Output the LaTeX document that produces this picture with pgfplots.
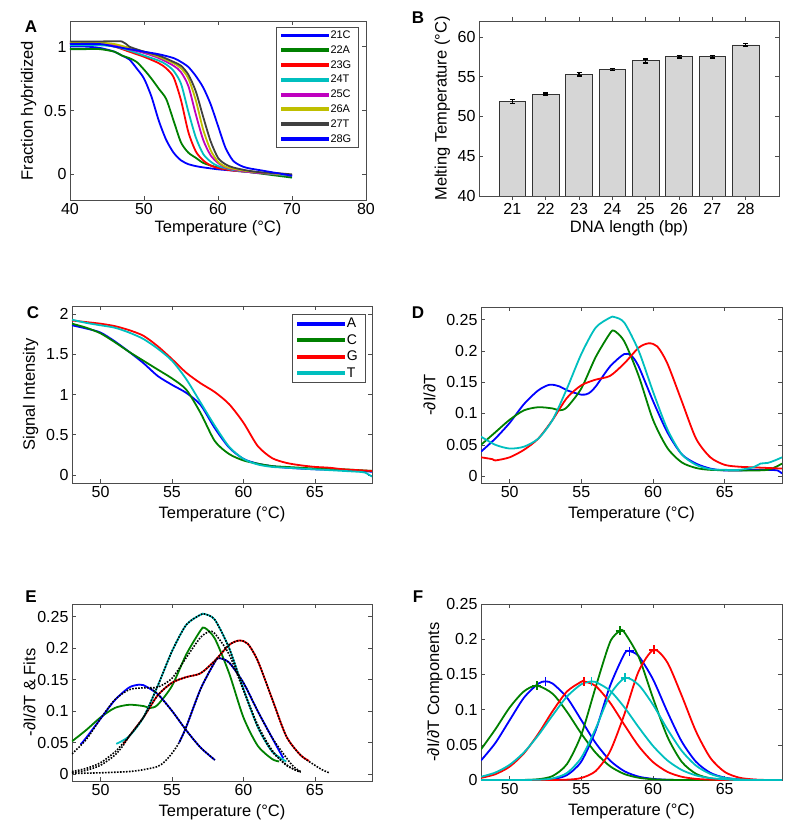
\documentclass[border=0pt]{standalone}
\usepackage{fontspec}
\setmainfont{Liberation Sans}
\usepackage{pgfplots}
\pgfplotsset{compat=1.18}
\definecolor{mblue}{rgb}{0,0,1}
\definecolor{mgreen}{rgb}{0,0.5,0}
\definecolor{mred}{rgb}{1,0,0}
\definecolor{mcyan}{rgb}{0,0.75,0.75}
\definecolor{mmagenta}{rgb}{0.75,0,0.75}
\definecolor{myellow}{rgb}{0.75,0.75,0}
\definecolor{mgray}{rgb}{0.25,0.25,0.25}
\pgfplotsset{
  panel/.style={scale only axis, anchor=south west,
    axis line style={draw=black!70},
    tick style={draw=black!70, line width=0.5pt},
    tick align=inside, major tick length=4pt,
    ticklabel style={font=\fontsize{16}{19}\selectfont},
    label style={font=\fontsize{16.5}{19}\selectfont},
    /pgf/number format/assume math mode=true,
    scaled ticks=false},
  curves/.style={every axis plot/.append style={line width=1.8pt, smooth, tension=0.45}},
  fit/.style={black, line width=1.6pt, dash pattern=on 1.6pt off 1.4pt, smooth, tension=0.45},
}
\begin{document}
\begin{tikzpicture}
\useasboundingbox (0pt,0pt) rectangle (800pt,836pt);
% ---------------- A ----------------
\begin{axis}[panel, curves, at={(70pt,636pt)}, width=296pt, height=179pt,
  xmin=40, xmax=80, ymin=-0.2, ymax=1.2,
  xtick={40,50,60,70,80}, ytick={0,0.5,1}, yticklabels={0,0.5,1},
  xlabel={Temperature (°C)}, ylabel={Fraction hybridized},
  xlabel style={at={(axis description cs:0.5,-0.16)}, anchor=center},
  ylabel style={at={(axis description cs:-0.140,0.5)}, anchor=center},
  legend style={at={(axis description cs:1,1)}, xshift=-7.5pt, yshift=-5.7pt, anchor=north east,
    draw=black!70, fill=white, font=\fontsize{11}{13}\selectfont, inner xsep=5pt, inner ysep=2pt, row sep=1.6pt},
  legend cell align=left,
  legend image code/.code={\fill[#1] (0pt,-1pt) rectangle (46pt,1pt);}]
\addplot[mblue] coordinates {(40,1.0)(42,1.0)(44,0.99)(46,0.96)(47,0.93)(48,0.9)(49,0.83)(50,0.75)(51,0.61)(52,0.42)(53,0.27)(54,0.17)(55,0.11)(56,0.08)(57,0.065)(58,0.055)(60,0.04)(62,0.03)(64,0.02)(66,0.01)(68,0.0)(70,-0.015)};
\addlegendentry{21C}
\addplot[mgreen] coordinates {(40,0.98)(42,0.98)(44,0.98)(46,0.96)(47,0.93)(48,0.91)(49,0.88)(50,0.82)(51,0.75)(52,0.67)(53,0.59)(54,0.42)(55,0.25)(56,0.17)(57,0.13)(58,0.09)(59,0.07)(60,0.055)(62,0.035)(64,0.02)(66,0.005)(68,-0.01)(70,-0.025)};
\addlegendentry{22A}
\addplot[mred] coordinates {(40,1.02)(44,1.02)(46,1.0)(48,0.96)(50,0.92)(52,0.87)(53,0.83)(54,0.76)(55,0.58)(56,0.33)(57,0.18)(58,0.11)(59,0.07)(60,0.05)(62,0.03)(64,0.02)(66,0.01)(68,0.0)(70,-0.01)};
\addlegendentry{23G}
\addplot[mcyan] coordinates {(40,1.01)(44,1.01)(46,1.0)(48,0.97)(50,0.93)(52,0.89)(53,0.86)(54,0.81)(55,0.71)(56,0.49)(57,0.29)(58,0.16)(59,0.1)(60,0.065)(62,0.035)(64,0.02)(66,0.01)(68,0.0)(70,-0.01)};
\addlegendentry{24T}
\addplot[mmagenta] coordinates {(40,1.02)(44,1.03)(46,1.01)(48,0.98)(50,0.95)(52,0.91)(54,0.85)(55,0.8)(56,0.69)(57,0.47)(58,0.27)(59,0.15)(60,0.09)(61,0.055)(62,0.04)(64,0.02)(66,0.01)(68,0.005)(70,-0.005)};
\addlegendentry{25C}
\addplot[myellow] coordinates {(40,1.03)(44,1.03)(46,1.02)(48,0.99)(50,0.96)(52,0.92)(54,0.87)(55,0.83)(56,0.75)(57,0.58)(58,0.35)(59,0.19)(60,0.1)(61,0.06)(62,0.045)(64,0.025)(66,0.015)(68,0.005)(70,-0.005)};
\addlegendentry{26A}
\addplot[mgray] coordinates {(40,1.04)(44,1.04)(47,1.04)(48,1.0)(50,0.96)(52,0.93)(54,0.88)(55,0.85)(56,0.78)(57,0.65)(58,0.45)(59,0.26)(60,0.13)(61,0.08)(62,0.055)(64,0.03)(66,0.015)(68,0.01)(70,0.0)};
\addlegendentry{27T}
\addplot[mblue] coordinates {(40,1.02)(44,1.02)(46,1.0)(48,0.98)(50,0.96)(52,0.94)(54,0.91)(55,0.88)(56,0.84)(57,0.77)(58,0.68)(59,0.55)(60,0.38)(61,0.21)(62,0.11)(63,0.07)(64,0.05)(66,0.03)(68,0.01)(70,-0.01)};
\addlegendentry{28G}
\end{axis}
% ---------------- B ----------------
\begin{axis}[panel, at={(479pt,640pt)}, width=300pt, height=175pt, ybar,
  xmin=20, xmax=29, ymin=40, ymax=62,
  xtick={21,22,23,24,25,26,27,28}, ytick={40,45,50,55,60},
  xlabel={DNA length (bp)}, ylabel={Melting Temperature (°C)},
  xlabel style={at={(axis description cs:0.5,-0.185)}, anchor=center},
  ylabel style={at={(axis description cs:-0.122,0.5)}, anchor=center}]
\addplot[ybar, bar width=0.8, fill=black!16, draw=black!80, line width=0.7pt,
  error bars/.cd, y dir=both, y explicit,
  error bar style={line width=1.6pt, black},
  error mark options={rotate=90, mark size=2.5pt, line width=1.6pt, black}]
  coordinates {(21,51.9) +- (0,0.25) (22,52.8) +- (0,0.12) (23,55.3) +- (0,0.25) (24,55.9) +- (0,0.12)
               (25,57.0) +- (0,0.25) (26,57.5) +- (0,0.15) (27,57.5) +- (0,0.15) (28,59.0) +- (0,0.15)};
\end{axis}
% ---------------- C ----------------
\begin{axis}[panel, curves, at={(72pt,353pt)}, width=300pt, height=177pt,
  xmin=48, xmax=69, ymin=-0.1, ymax=2.1,
  xtick={50,55,60,65}, ytick={0,0.5,1,1.5,2}, yticklabels={0,0.5,1,1.5,2},
  xlabel={Temperature (°C)}, ylabel={Signal Intensity},
  xlabel style={at={(axis description cs:0.5,-0.175)}, anchor=center},
  ylabel style={at={(axis description cs:-0.138,0.5)}, anchor=center},
  legend style={at={(axis description cs:1,1)}, xshift=-7pt, yshift=-8pt, anchor=north east,
    draw=black!70, fill=white, font=\fontsize{14}{16}\selectfont, inner xsep=5pt, inner ysep=2pt, row sep=1.2pt},
  legend cell align=left,
  legend image code/.code={\fill[#1] (0pt,-1pt) rectangle (46pt,1pt);}]
\addplot[mblue] coordinates {(48,1.86)(49,1.82)(50,1.77)(51,1.66)(52,1.53)(53,1.39)(54,1.23)(55,1.12)(56,1.02)(57,0.87)(58,0.58)(59,0.34)(60,0.2)(61,0.14)(62,0.11)(63,0.09)(65,0.07)(67,0.06)(69,0.04)};
\addlegendentry{A}
\addplot[mgreen] coordinates {(48,1.88)(49,1.83)(50,1.76)(51,1.65)(52,1.53)(53,1.42)(54,1.31)(55,1.2)(56,1.06)(57,0.77)(58,0.42)(59,0.26)(60,0.18)(61,0.14)(62,0.11)(63,0.1)(65,0.08)(67,0.07)(69,0.05)};
\addlegendentry{C}
\addplot[mred] coordinates {(48,1.92)(49,1.9)(50,1.88)(51,1.85)(52,1.8)(53,1.73)(54,1.6)(55,1.44)(56,1.27)(57,1.14)(58,1.03)(59,0.88)(60,0.65)(61,0.36)(62,0.21)(63,0.15)(64,0.12)(65,0.1)(66,0.09)(67,0.07)(68,0.06)(69,0.05)};
\addlegendentry{G}
\addplot[mcyan] coordinates {(48,1.93)(49,1.89)(50,1.86)(51,1.83)(52,1.77)(53,1.69)(54,1.57)(55,1.42)(56,1.19)(57,0.9)(58,0.61)(59,0.35)(60,0.2)(61,0.13)(62,0.1)(63,0.09)(65,0.07)(67,0.05)(68,0.04)(68.5,0.03)(69,-0.02)};
\addlegendentry{T}
\end{axis}
% ---------------- D ----------------
\begin{axis}[panel, curves, at={(481pt,353pt)}, width=301pt, height=176pt,
  xmin=48, xmax=69, ymin=-0.011, ymax=0.27,
  xtick={50,55,60,65}, ytick={0,0.05,0.1,0.15,0.2,0.25}, yticklabels={0,0.05,0.1,0.15,0.2,0.25},
  xlabel={Temperature (°C)}, ylabel={-∂I/∂T},
  xlabel style={at={(axis description cs:0.5,-0.178)}, anchor=center},
  ylabel style={at={(axis description cs:-0.171,0.5)}, anchor=center}]
\addplot[mblue] coordinates {(48,0.039)(49,0.06)(50,0.085)(51,0.115)(52,0.137)(52.8,0.146)(53.5,0.143)(54,0.137)(55,0.13)(55.5,0.132)(56,0.143)(57,0.175)(58,0.195)(58.5,0.192)(59,0.175)(60,0.12)(61,0.07)(62,0.035)(63,0.02)(64,0.012)(65,0.009)(66,0.009)(67,0.01)(68,0.01)(68.7,0.009)(69,0.004)};
\addplot[mgreen] coordinates {(48,0.05)(49,0.07)(50,0.09)(51,0.105)(52,0.11)(53,0.108)(53.5,0.105)(54,0.11)(55,0.14)(56,0.19)(57,0.228)(57.3,0.232)(58,0.215)(59,0.16)(60,0.09)(61,0.045)(62,0.022)(63,0.013)(64,0.01)(66,0.009)(68,0.01)(69,0.02)};
\addplot[mred] coordinates {(48,0.03)(48.8,0.027)(49,0.025)(50,0.03)(51,0.042)(52,0.06)(53,0.09)(54,0.125)(55,0.145)(56,0.154)(57,0.16)(58,0.18)(59,0.205)(59.7,0.212)(60.3,0.207)(61,0.18)(62,0.12)(63,0.06)(64,0.03)(65,0.018)(66,0.015)(67,0.014)(68,0.013)(69,0.012)};
\addplot[mcyan] coordinates {(48,0.063)(49,0.05)(50,0.044)(51,0.047)(52,0.06)(53,0.09)(54,0.14)(55,0.195)(56,0.237)(57,0.253)(57.3,0.254)(58,0.245)(59,0.2)(60,0.135)(61,0.075)(62,0.035)(63,0.018)(64,0.011)(65,0.01)(66,0.01)(67,0.014)(67.5,0.02)(68,0.021)(68.5,0.025)(69,0.03)};
\end{axis}
% ---------------- E ----------------
\begin{axis}[panel, curves, at={(72pt,55pt)}, width=300pt, height=177pt,
  xmin=48, xmax=69, ymin=-0.011, ymax=0.27,
  xtick={50,55,60,65}, ytick={0,0.05,0.1,0.15,0.2,0.25}, yticklabels={0,0.05,0.1,0.15,0.2,0.25},
  xlabel={Temperature (°C)}, ylabel={-∂I/∂T \& Fits},
  xlabel style={at={(axis description cs:0.5,-0.175)}, anchor=center},
  ylabel style={at={(axis description cs:-0.142,0.5)}, anchor=center}]
\addplot[mgreen] coordinates {(48,0.052)(49,0.07)(50,0.09)(51,0.105)(52,0.11)(53,0.108)(53.5,0.105)(54,0.11)(55,0.14)(56,0.19)(57,0.228)(57.3,0.232)(58,0.215)(59,0.16)(60,0.09)(61,0.045)(62,0.024)(62.5,0.02)};
\addplot[mblue] coordinates {(48.6,0.047)(49,0.0578)(50,0.0879)(51,0.1174)(52,0.1375)(52.7,0.142)(53,0.1412)(54,0.127)(55,0.1003)(56,0.0694)(57,0.0421)(58,0.0224)};
\addplot[mblue] coordinates {(55.5,0.05)(56,0.075)(57,0.135)(58,0.178)(58.3,0.184)(59,0.177)(60,0.145)(61,0.10)(62,0.058)(62.5,0.037)(62.8,0.025)};
\addplot[mred] coordinates {(51.6,0.048)(52,0.06)(53,0.09)(54,0.125)(55,0.145)(56,0.154)(57,0.16)(58,0.18)(59,0.205)(59.7,0.212)(60.3,0.207)(61,0.18)(62,0.12)(63,0.06)(64,0.03)(64.6,0.021)};
\addplot[mcyan] coordinates {(51.1,0.048)(52,0.06)(53,0.09)(54,0.14)(55,0.195)(56,0.237)(57,0.253)(57.3,0.254)(58,0.245)(59,0.2)(60,0.135)(61,0.075)(62,0.036)(63,0.02)};
% fits
\addplot[fit] coordinates {(48,0.032)(49,0.055)(50,0.088)(51,0.118)(52,0.134)(53,0.137)(54,0.138)(55,0.152)(56,0.185)(57,0.217)(57.6,0.226)(58,0.223)(59,0.19)(60,0.133)(61,0.078)(62,0.038)(63,0.014)(64,0.003)};
\addplot[fit] coordinates {(53.5,0.136)(54,0.127)(55,0.1003)(56,0.0694)(57,0.0421)(58,0.0224)};
\addplot[fit] coordinates {(48,0.001)(50,0.002)(52,0.004)(53,0.007)(54,0.012)(54.5,0.02)(55,0.033)(55.5,0.05)(56,0.075)(57,0.135)(58,0.178)(58.3,0.184)(59,0.177)(60,0.145)(61,0.10)(62,0.058)(63,0.026)(63.5,0.012)(64,0.004)};
\addplot[fit] coordinates {(48,0.004)(49,0.009)(50,0.018)(51,0.035)(51.5,0.047)(52,0.06)(53,0.09)(54,0.14)(55,0.195)(56,0.237)(57,0.253)(57.3,0.254)(58,0.245)(59,0.2)(60,0.135)(61,0.075)(62,0.036)(63,0.015)(63.5,0.008)(64,0.003)};
\addplot[fit] coordinates {(48,0.002)(49,0.006)(50,0.014)(51,0.03)(51.6,0.046)(52,0.06)(53,0.09)(54,0.125)(55,0.145)(56,0.154)(57,0.16)(58,0.18)(59,0.205)(59.7,0.212)(60.3,0.207)(61,0.18)(62,0.12)(63,0.06)(64,0.03)(65,0.014)(65.5,0.007)(66,0.002)};
\end{axis}
% ---------------- F ----------------
\begin{axis}[panel, curves, at={(481pt,56pt)}, width=301pt, height=176pt,
  xmin=48, xmax=69, ymin=0, ymax=0.25,
  xtick={50,55,60,65}, ytick={0,0.05,0.1,0.15,0.2,0.25}, yticklabels={0,0.05,0.1,0.15,0.2,0.25},
  xlabel={Temperature (°C)}, ylabel={-∂I/∂T Components},
  xlabel style={at={(axis description cs:0.5,-0.178)}, anchor=center},
  ylabel style={at={(axis description cs:-0.153,0.5)}, anchor=center}]
\addplot[mblue] coordinates {(48,0.0277)(49,0.0525)(50,0.085)(51,0.117)(52,0.137)(52.5,0.140)(53,0.137)(54,0.117)(55,0.085)(56,0.0525)(57,0.0277)(58,0.0125)(59,0.0048)(60,0.0016)(61,0.0004)(62,0)(64,0)(66,0)(69,0)};
\addplot[mblue] coordinates {(48,0)(50,0)(52,0.0002)(53,0.0013)(54,0.007)(55,0.0263)(56,0.0704)(57,0.1335)(58,0.179)(58.35,0.183)(59,0.176)(60,0.143)(61,0.097)(62,0.0548)(63,0.0259)(64,0.0102)(65,0.0034)(66,0.0009)(67,0.0002)(68,0)(69,0)};
\addplot[mgreen] coordinates {(48,0.0435)(49,0.072)(50,0.103)(51,0.126)(51.9,0.134)(53,0.1225)(54,0.0967)(55,0.0658)(56,0.0387)(57,0.0196)(58,0.0085)(59,0.0032)(60,0.001)(61,0.0003)(62,0)(64,0)(66,0)(69,0)};
\addplot[mgreen] coordinates {(48,0)(50,0)(51,0.0001)(52,0.0011)(53,0.0057)(54,0.0227)(55,0.0645)(56,0.132)(57,0.1957)(57.7,0.212)(58,0.2098)(59,0.175)(60,0.1164)(61,0.0617)(62,0.026)(63,0.0088)(64,0.0024)(65,0.0005)(66,0)(69,0)};
\addplot[mred] coordinates {(48,0.003)(49,0.0082)(50,0.019)(51,0.038)(52,0.0657)(53,0.0979)(54,0.1258)(55,0.1396)(55.2,0.140)(56,0.1335)(57,0.110)(58,0.0784)(59,0.0481)(60,0.0255)(61,0.0116)(62,0.0046)(63,0.0016)(64,0.0005)(65,0)(67,0)(69,0)};
\addplot[mred] coordinates {(48,0)(52,0)(54,0.0005)(55,0.0029)(56,0.0127)(57,0.0405)(58,0.0931)(59,0.1545)(60.05,0.185)(61,0.167)(62,0.120)(63,0.069)(64,0.0315)(65,0.0115)(66,0.0034)(67,0.0008)(68,0)(69,0)};
\addplot[mcyan] coordinates {(48,0.0046)(49,0.0106)(50,0.0216)(51,0.0393)(52,0.0637)(53,0.092)(54,0.1186)(55,0.136)(55.7,0.140)(56,0.1393)(57,0.127)(58,0.1033)(59,0.0749)(60,0.0484)(61,0.0279)(62,0.0143)(63,0.0065)(64,0.0027)(65,0.001)(66,0)(69,0)};
\addplot[mcyan] coordinates {(48,0)(50,0)(52,0.0004)(53,0.0023)(54,0.01)(55,0.0318)(56,0.073)(57,0.121)(58.05,0.145)(59,0.135)(60,0.107)(61,0.0723)(62,0.0416)(63,0.0204)(64,0.0086)(65,0.003)(66,0.0009)(67,0)(69,0)};
\addplot[only marks, mark=+, mark size=4.5pt, mblue, line width=1.6pt] coordinates {(52.5,0.140)(58.35,0.183)};
\addplot[only marks, mark=+, mark size=4.5pt, mgreen, line width=1.6pt] coordinates {(51.9,0.134)(57.7,0.212)};
\addplot[only marks, mark=+, mark size=4.5pt, mred, line width=1.6pt] coordinates {(55.2,0.140)(60.05,0.185)};
\addplot[only marks, mark=+, mark size=4.5pt, mcyan, line width=1.6pt] coordinates {(55.7,0.140)(58.05,0.145)};
\end{axis}
% panel letters
\node[font=\bfseries\fontsize{17}{20}\selectfont] at (31pt,809pt) {A};
\node[font=\bfseries\fontsize{17}{20}\selectfont] at (418pt,818pt) {B};
\node[font=\bfseries\fontsize{17}{20}\selectfont] at (33pt,523pt) {C};
\node[font=\bfseries\fontsize{17}{20}\selectfont] at (418pt,523pt) {D};
\node[font=\bfseries\fontsize{17}{20}\selectfont] at (31pt,239pt) {E};
\node[font=\bfseries\fontsize{17}{20}\selectfont] at (418pt,239pt) {F};
\end{tikzpicture}
\end{document}
